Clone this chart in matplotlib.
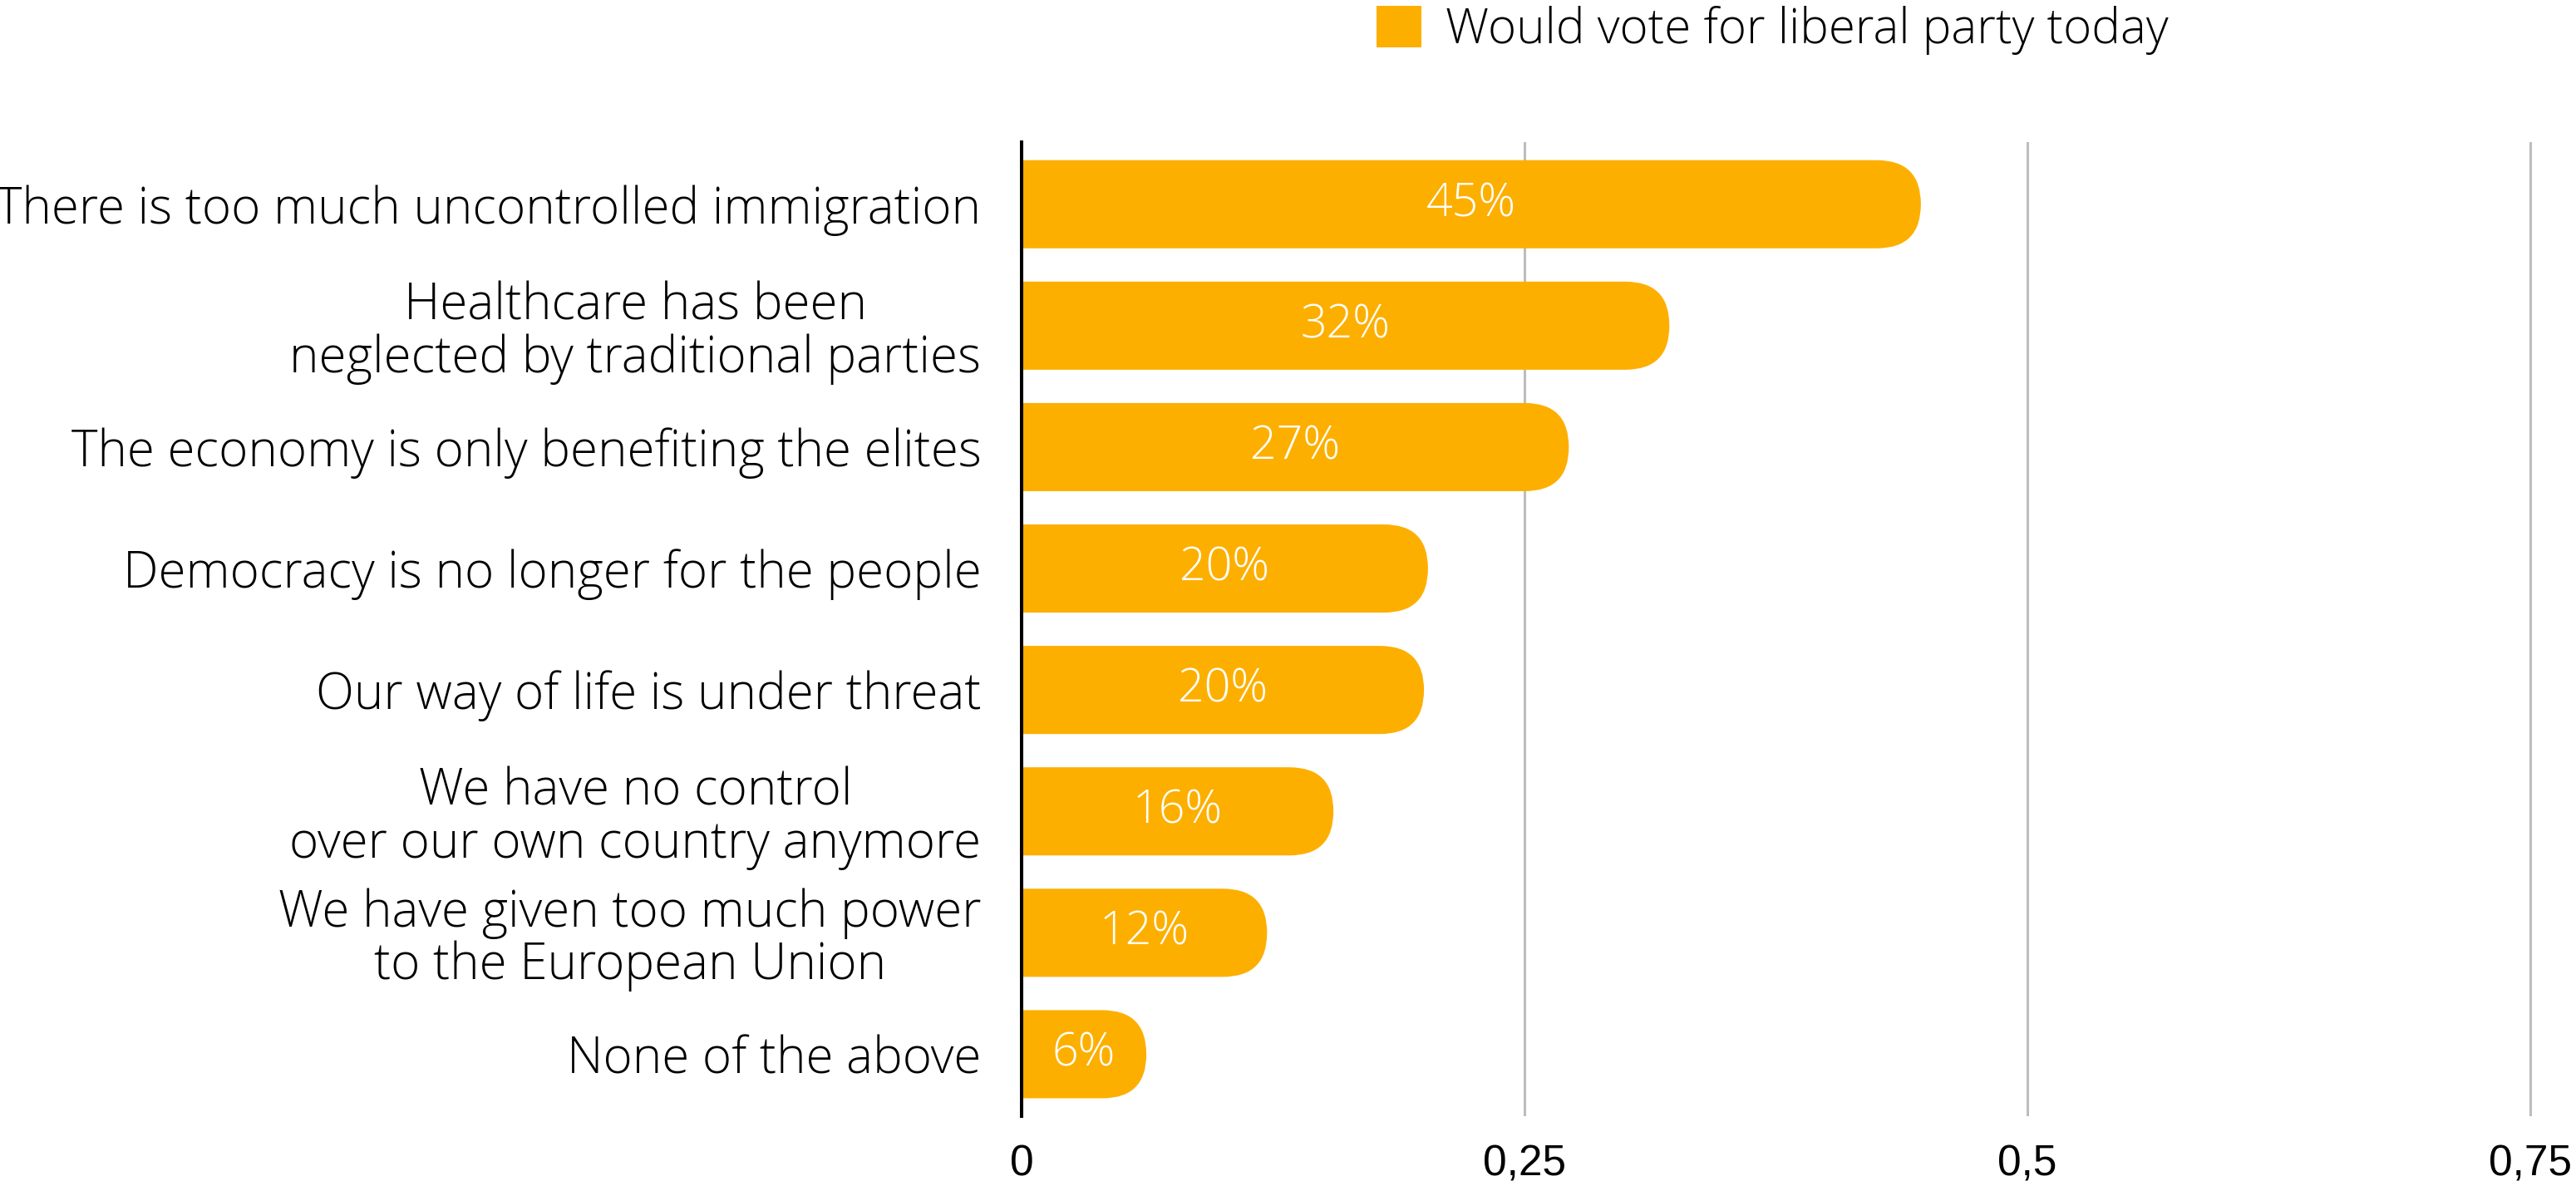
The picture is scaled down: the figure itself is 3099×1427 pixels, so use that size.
import matplotlib
matplotlib.use('Agg')
import matplotlib.pyplot as plt
from matplotlib.patches import FancyBboxPatch, Patch

categories = [
    "There is too much uncontrolled immigration",
    "Healthcare has been\nneglected by traditional parties",
    "The economy is only benefiting the elites",
    "Democracy is no longer for the people",
    "Our way of life is under threat",
    "We have no control\nover our own country anymore",
    "We have given too much power\nto the European Union",
    "None of the above",
]
values = [0.447, 0.322, 0.272, 0.202, 0.200, 0.155, 0.122, 0.062]
value_labels = ["45%", "32%", "27%", "20%", "20%", "16%", "12%", "6%"]
xticks = [0, 0.25, 0.5, 0.75]
xticklabels = ["0", "0,25", "0,5", "0,75"]
series_name = "Would vote for liberal party today"

COLOR = "#FDAF00"
TEXT_FONT = ["Open Sans", "DejaVu Sans"]
TICK_FONT = ["Liberation Sans", "DejaVu Sans"]

fig = plt.figure(figsize=(30.99, 14.27), dpi=100)
ax = fig.add_axes([0.3966, 0.0589, 0.5896, 0.8211])

y = list(range(len(categories)))
ax.set_xlim(0, 0.755)
ax.set_ylim(len(categories) - 0.49, -0.51)

bars = ax.barh(y, values, height=0.726, color=COLOR, zorder=3)

# convert to rounded-right-end bars
p0 = ax.transData.transform((0, 0))
p1 = ax.transData.transform((1, 1))
sx = abs(p1[0] - p0[0])
sy = abs(p1[1] - p0[1])
for b in bars:
    w, yb, h = b.get_width(), b.get_y(), b.get_height()
    r_x = (h * sy / 2.0) / sx
    patch = FancyBboxPatch((-r_x, yb), w + r_x, h,
                           boxstyle=f"round,pad=0,rounding_size={r_x}",
                           mutation_aspect=sx / sy,
                           facecolor=COLOR, edgecolor='none', zorder=3)
    ax.add_patch(patch)
    b.set_visible(False)

for yi, v, lab in zip(y, values, value_labels):
    ax.text(v / 2.0, yi, lab, ha='center', va='center', color='white',
            fontsize=40, family=TEXT_FONT, fontweight=300, zorder=4)

ax.set_yticks(y)
ax.set_yticklabels(categories, fontsize=43.3, family=TEXT_FONT, fontweight=300,
                   linespacing=1.04)
for t in ax.get_yticklabels():
    t.set_multialignment('center')
ax.set_xticks(xticks)
ax.set_xticklabels(xticklabels, fontsize=37, family=TICK_FONT)
ax.tick_params(axis='y', length=0, pad=35)
ax.tick_params(axis='x', length=0, pad=24)

for s in ['top', 'right', 'bottom']:
    ax.spines[s].set_visible(False)
ax.spines['left'].set_color('black')
ax.spines['left'].set_linewidth(2.9)
ax.spines['left'].set_zorder(5)

ax.xaxis.grid(True, color='#BDBDBD', linewidth=2.2)
ax.yaxis.grid(False)
ax.set_axisbelow(True)

fig.legend(handles=[Patch(facecolor=COLOR, edgecolor='none')], labels=[series_name],
           loc='upper left', bbox_to_anchor=(0.5344, 0.995), frameon=False,
           borderpad=0, borderaxespad=0, handlelength=0.92, handleheight=0.92,
           handletextpad=0.5, prop={'family': TEXT_FONT, 'weight': 300, 'size': 42})

fig.savefig('out.png', dpi=100)
